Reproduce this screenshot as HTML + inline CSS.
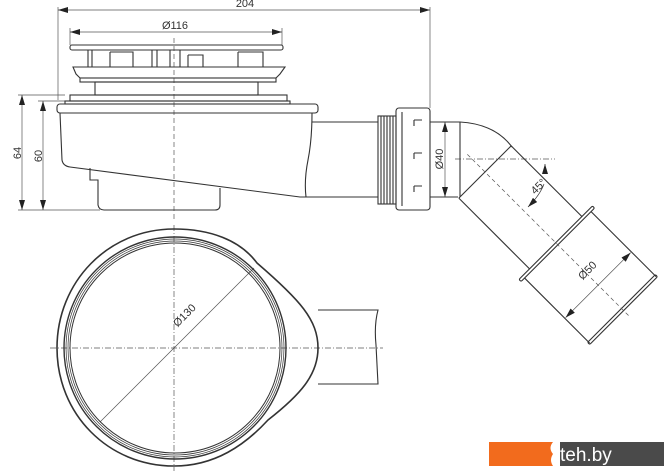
<!DOCTYPE html>
<html><head><meta charset="utf-8"><style>
html,body{margin:0;padding:0;background:#fff;}
svg{display:block;}
text{font-family:"Liberation Sans",sans-serif;fill:#333;}
</style></head><body>
<svg width="670" height="471" viewBox="0 0 670 471" xmlns="http://www.w3.org/2000/svg">
<defs>
<marker id="a" viewBox="0 0 10 6" refX="10" refY="3" markerWidth="10" markerHeight="6" orient="auto-start-reverse" markerUnits="userSpaceOnUse"><path d="M0,0 L10,3 L0,6 Z" fill="#222"/></marker>
</defs>
<g fill="none" stroke="#555" stroke-width="0.7">
<line x1="58" y1="7" x2="58" y2="100"/>
<line x1="430" y1="7" x2="430" y2="108"/>
<line x1="58" y1="10" x2="430" y2="10" marker-start="url(#a)" marker-end="url(#a)"/>
<line x1="70" y1="28" x2="70" y2="45"/>
<line x1="282" y1="28" x2="282" y2="45"/>
<line x1="70" y1="32" x2="282" y2="32" marker-start="url(#a)" marker-end="url(#a)"/>
<line x1="18" y1="95" x2="65" y2="95"/>
<line x1="38" y1="101" x2="65" y2="101"/>
<line x1="18" y1="210" x2="100" y2="210"/>
<line x1="22" y1="95" x2="22" y2="210" marker-start="url(#a)" marker-end="url(#a)"/>
<line x1="43" y1="101" x2="43" y2="210" marker-start="url(#a)" marker-end="url(#a)"/>
<line x1="445" y1="122" x2="445" y2="197" marker-start="url(#a)" marker-end="url(#a)"/>
<line x1="174" y1="38" x2="174" y2="222" stroke-dasharray="5,3"/>
<line x1="174" y1="225" x2="174" y2="471" stroke-dasharray="6,2,1,2"/>
<line x1="50" y1="348" x2="383" y2="348" stroke-dasharray="6,2,1,2"/>
<line x1="455" y1="159" x2="555" y2="159" stroke-dasharray="6,2,1,2"/>
<line x1="100" y1="422" x2="254" y2="268"/>
</g>
<g fill="#333" font-size="11">
<text x="245" y="7" text-anchor="middle">204</text>
<text x="175" y="29" text-anchor="middle">Ø116</text>
<text transform="translate(21,153) rotate(-90)" text-anchor="middle">64</text>
<text transform="translate(42,156) rotate(-90)" text-anchor="middle">60</text>
<text transform="translate(443,159) rotate(-90)" text-anchor="middle">Ø40</text>
<text transform="translate(187,318) rotate(-45)" text-anchor="middle">Ø130</text>
<text transform="translate(541,189) rotate(-45)" text-anchor="middle">45°</text>
<text transform="translate(590,273) rotate(-45)" text-anchor="middle">Ø50</text>
</g>
<g fill="none" stroke="#333" stroke-width="1.1">
<rect x="70" y="45" width="213" height="5" rx="2"/>
<path d="M88,50 V67 M92,50 V67 M110,52 H133 V67 M110,52 V67 M152,50 V67 M157,50 V67 M170,50 V67 M180,50 V67 M188,55 H203 V67 M188,55 V67 M238,52 H263 V67 M238,52 V67"/>
<path d="M73,67 H285 L280,74 L276,78 H80 L76,74 Z"/>
<rect x="80" y="78" width="196" height="4"/>
<rect x="95" y="82" width="163" height="13"/>
<rect x="70" y="95" width="217" height="6"/>
<rect x="65" y="101" width="225" height="3"/>
<rect x="57" y="104" width="261" height="9" rx="3"/>
<path d="M60,113 L62,160 Q63,166 70,167 L300,197 L306,197 Q304,180 308,160 Q312,140 312,113"/>
<path d="M312,122 H378 M306,197 H378"/>
<path d="M90,168 V180 H98 V205 Q99,210 104,210 H215 Q220,210 220,205 V188"/>
<rect x="378" y="116" width="18" height="88"/>
<path d="M381,116 V204 M384,116 V204 M387,116 V204 M390,116 V204 M393,116 V204"/>
<rect x="396" y="108" width="34" height="102" rx="3"/>
<path d="M402,112 V206 M414,120 H422 M414,153 H422 M414,186 H422 M414,120 V126 M414,153 V159 M414,186 V192"/>
<path d="M430,122 H460 Q495,124 512,147"/>
<path d="M430,197 H458"/>
<path d="M460,122 V197"/>
<g transform="translate(485,172) rotate(45)">
<line x1="0" y1="-37" x2="0" y2="37"/>
<line x1="0" y1="-37" x2="100" y2="-37"/>
<line x1="0" y1="37" x2="100" y2="37"/>
<rect x="100" y="-52" width="3" height="104" rx="1.5"/>
<line x1="103" y1="-47" x2="195" y2="-47"/>
<line x1="103" y1="47" x2="195" y2="47"/>
<rect x="193" y="-48" width="3" height="96" rx="1.5"/>
<line x1="-25" y1="0" x2="205" y2="0" stroke="#555" stroke-width="0.7" stroke-dasharray="4,3"/>
<line x1="160" y1="-46" x2="160" y2="46" stroke="#555" stroke-width="0.7" marker-start="url(#a)" marker-end="url(#a)"/>
</g>
<path d="M528,207 Q540,195 544,184" stroke-width="0.7" marker-start="url(#a)"/>
<path d="M545,174 L545,164" stroke-width="0.7" marker-end="url(#a)"/>
<path d="M257,263 C240,240 210,229 174,229 C108,229 57,282 57,348 C57,414 108,466 174,466 C215,466 245,445 268,420 C300,395 318,375 318,348 C318,320 300,300 257,263 Z" stroke-width="1.6"/>
<circle cx="175" cy="348" r="111" stroke-width="1.4"/>
<circle cx="175" cy="348" r="109" stroke-width="0.7"/>
<circle cx="175" cy="348" r="107" stroke-width="0.7"/>
<circle cx="175" cy="348" r="105" stroke-width="1"/>
<path d="M318,310 H378 Q374,325 376,345 Q377,365 378,384 H318"/>
</g>
<rect x="489" y="442" width="64" height="24" fill="#f26b1d"/>
<rect x="553" y="442" width="111" height="24" fill="#4a4a4a"/>
<path d="M553,442 Q548,448 553,454 Q549,460 553,466 L560,466 V442 Z" fill="#fff"/>
<text x="560" y="461" font-size="19" style="fill:#fff">teh.by</text>
</svg>
</body></html>
